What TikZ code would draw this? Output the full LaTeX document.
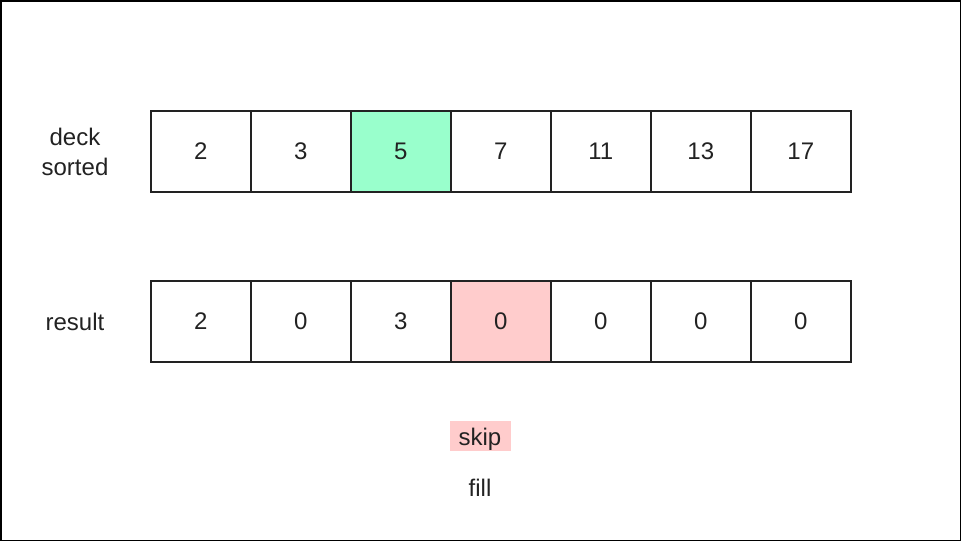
\documentclass[tikz,border=0pt]{standalone}
\usepackage{fontspec}
\setmainfont{Liberation Sans}
\definecolor{cgreen}{HTML}{99FFCC}
\definecolor{cpink}{HTML}{FFCCCC}
\definecolor{cline}{HTML}{222222}
\begin{document}
\begin{tikzpicture}[x=1pt,y=-1pt,
  cell/.style={draw=cline,line width=1.6pt,minimum width=100pt,minimum height=81pt,inner sep=0pt,anchor=north west,text=cline,font=\fontsize{24}{28}\selectfont},
  lbl/.style={font=\fontsize{24}{30}\selectfont,text=cline,align=center,inner sep=0pt}]
\useasboundingbox (0,0) rectangle (961,541);
\draw[black,line width=1.5pt] (0.75,0.75) rectangle (960.25,540.25);
\foreach \v [count=\i from 0] in {2,3,5,7,11,13,17}{
  \node[cell] (d\i) at (150+100*\i,110) {\v};
}
\foreach \v [count=\i from 0] in {2,0,3,0,0,0,0}{
  \node[cell] (r\i) at (150+100*\i,280) {\v};
}
\node[cell,fill=cgreen] (d2g) at (350,110) {5};
\node[cell,fill=cpink] (r3p) at (450,280) {0};
\node[lbl] (ldeck) at (75,152) {deck\\sorted};
\node[lbl] (lres) at (75,322) {result};
\node[fill=cpink,minimum width=61pt,minimum height=30pt,inner sep=0pt] (skip) at (480,436) {};
\node[lbl,anchor=base] (skiptxt) at (480,445) {skip};
\node[lbl] (fill) at (480,488) {fill};
\end{tikzpicture}
\end{document}
